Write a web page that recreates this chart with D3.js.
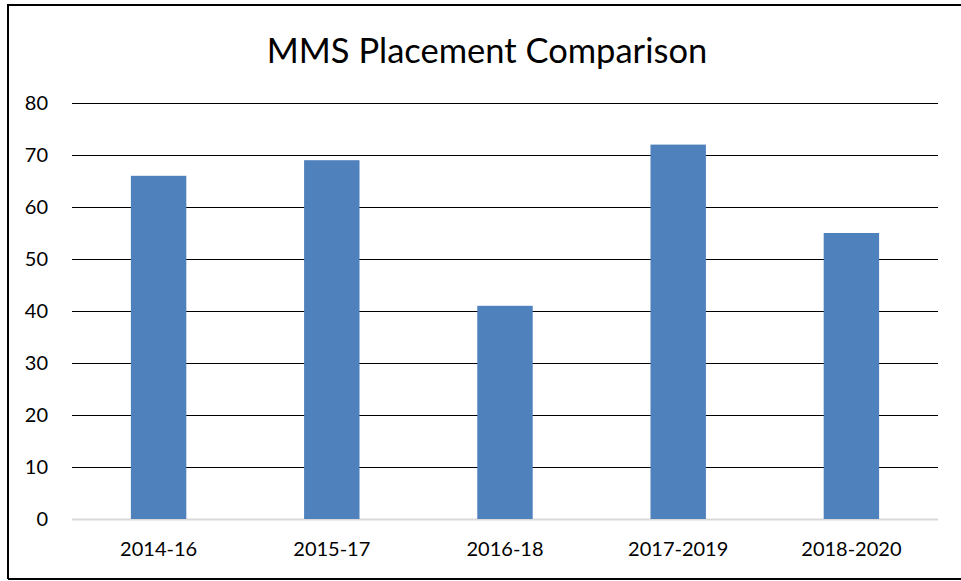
<!DOCTYPE html>
<html><head><meta charset="utf-8">
<script src="https://cdn.jsdelivr.net/npm/d3@7"></script>
<style>body{margin:0;background:#fff;} text{font-family:Lato,"Open Sans",sans-serif;}</style>
</head><body>
<svg id="c" width="961" height="581"></svg>
<script>
const categories = ["2014-16","2015-17","2016-18","2017-2019","2018-2020"];
const values = [66,69,41,72,55];
const yTicks = [0,10,20,30,40,50,60,70,80];
const title = "MMS Placement Comparison";

const svg = d3.select("#c");
svg.append("rect").attr("x",0).attr("y",0).attr("width",961).attr("height",581).attr("fill","#fff");
// outer frame
svg.append("path").attr("d","M8,579 L8,5 L961,5").attr("fill","none").attr("stroke","#000").attr("stroke-width",2);
svg.append("line").attr("x1",8).attr("x2",961).attr("y1",579).attr("y2",579).attr("stroke","#000").attr("stroke-width",2);

const x = d3.scaleBand().domain(categories).range([72,938]).paddingInner(0.68).paddingOuter(0.34);
const y = d3.scaleLinear().domain([0,80]).range([519,103]);

// gridlines
svg.append("g").selectAll("line").data(yTicks).join("line")
  .attr("x1",72).attr("x2",938)
  .attr("y1",d=>Math.round(y(d))+0.5).attr("y2",d=>Math.round(y(d))+0.5)
  .attr("stroke",d=>d===0?"#d9d9d9":"#000").attr("stroke-width",d=>d===0?2:1);

// y labels
const yAxis = d3.axisLeft(y).tickValues(yTicks).tickSize(0).tickPadding(0);
const ga = svg.append("g").attr("transform","translate(48,0)").call(yAxis);
ga.select(".domain").remove();
ga.selectAll("text").attr("font-size",20).attr("fill","#000").attr("font-family","Lato,'Open Sans',sans-serif");

// bars
svg.append("g").selectAll("rect").data(values).join("rect")
  .attr("x",(d,i)=>x(categories[i]))
  .attr("width",x.bandwidth())
  .attr("y",d=>y(d))
  .attr("height",d=>y(0)-y(d))
  .attr("fill","#4f81bd");

// x labels
const xAxis = d3.axisBottom(x).tickSize(0).tickPadding(0);
const gx = svg.append("g").attr("transform","translate(0,542)").call(xAxis);
gx.select(".domain").remove();
gx.selectAll("text").attr("font-size",20).attr("fill","#000").attr("font-family","Lato,'Open Sans',sans-serif");

svg.append("text").attr("x",487).attr("y",63).attr("text-anchor","middle")
  .attr("font-size",34.5).attr("fill","#000").text(title);
</script>
</body></html>
